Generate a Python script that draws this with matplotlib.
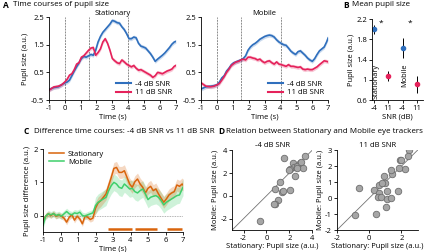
import numpy as np
import matplotlib
matplotlib.use("Agg")
import matplotlib.pyplot as plt

plt.rcParams["font.family"] = ["Open Sans", "DejaVu Sans"]
plt.rcParams["axes.unicode_minus"] = False
plt.rcParams["font.size"] = 5.5

# ---- data -------------------------------------------------------------
t_a = [-1, -0.7, -0.4, -0.2, 0, 0.15, 0.3, 0.45, 0.6, 0.75, 0.9, 1.05, 1.2, 1.35,
       1.5, 1.65, 1.8, 1.95, 2.1, 2.25, 2.4, 2.55, 2.7, 2.85, 3.0, 3.15, 3.3, 3.45,
       3.6, 3.75, 3.9, 4.05, 4.2, 4.35, 4.5, 4.65, 4.8, 4.95, 5.1, 5.25, 5.4, 5.55,
       5.7, 5.85, 6.0, 6.15, 6.3, 6.45, 6.6, 6.75, 6.9, 7.0]

stat_lo = [-0.12, -0.05, -0.02, 0.05, 0.12, 0.15, 0.22, 0.38, 0.55, 0.7, 0.85, 1.0, 1.08, 1.05,
           1.1, 1.15, 1.12, 1.3, 1.6, 1.8, 1.95, 2.05, 2.15, 2.25, 2.38, 2.35, 2.3, 2.28,
           2.15, 2.05, 1.9, 1.72, 1.72, 1.78, 1.75, 1.55, 1.45, 1.42, 1.38, 1.28, 1.18, 1.05,
           0.9, 0.98, 1.05, 1.12, 1.2, 1.3, 1.4, 1.52, 1.6, 1.62]
stat_hi = [-0.15, -0.03, 0.0, 0.05, 0.15, 0.25, 0.4, 0.45, 0.6, 0.8, 0.85, 1.05, 1.1, 1.2,
           1.3, 1.38, 1.4, 1.12, 1.22, 1.35, 1.6, 1.72, 1.55, 1.3, 1.0, 0.92, 0.85, 0.82,
           0.95, 0.88, 0.8, 0.75, 0.7, 0.75, 0.65, 0.58, 0.6, 0.55, 0.5, 0.45, 0.4, 0.32,
           0.38, 0.5, 0.48, 0.45, 0.5, 0.55, 0.58, 0.62, 0.72, 0.75]
mob_lo = [-0.1, -0.02, 0.0, 0.02, 0.05, 0.15, 0.3, 0.38, 0.55, 0.65, 0.78, 0.85, 0.88, 0.92,
          0.95, 1.0, 1.1, 1.3, 1.42, 1.5, 1.55, 1.62, 1.7, 1.75, 1.8, 1.83, 1.85, 1.83,
          1.78, 1.68, 1.6, 1.55, 1.5, 1.48, 1.38, 1.27, 1.2, 1.15, 1.25, 1.28, 1.2, 1.12,
          1.02, 0.95, 0.9, 1.0, 1.15, 1.28, 1.35, 1.42, 1.6, 1.75]
mob_hi = [0.12, 0.0, -0.02, 0.0, 0.05, 0.1, 0.22, 0.35, 0.5, 0.62, 0.75, 0.82, 0.88, 0.9,
          0.95, 0.98, 0.95, 1.05, 1.05, 1.02, 1.0, 0.95, 0.98, 0.9, 0.85, 0.9, 0.92, 0.85,
          0.8, 0.88, 0.8, 0.78, 0.75, 0.72, 0.78, 0.72, 0.72, 0.7, 0.68, 0.7, 0.62, 0.6,
          0.62, 0.6, 0.6, 0.65, 0.7, 0.78, 0.85, 0.92, 0.9, 0.88]
sem_a = 0.07

snr_labels = ["-4", "11", "-4", "11"]
mean_size = [2.0, 1.08, 1.63, 0.91]
mean_err = [0.09, 0.1, 0.19, 0.17]

t_c = [-1, -0.85, -0.7, -0.55, -0.4, -0.25, -0.1, 0.05, 0.2, 0.35, 0.5, 0.65, 0.8, 0.95,
       1.1, 1.25, 1.4, 1.55, 1.7, 1.85, 2.0, 2.15, 2.3, 2.45, 2.6, 2.75, 2.9, 3.05,
       3.2, 3.35, 3.5, 3.65, 3.8, 3.95, 4.1, 4.25, 4.4, 4.55, 4.7, 4.85, 5.0, 5.15,
       5.3, 5.45, 5.6, 5.75, 5.9, 6.05, 6.2, 6.35, 6.5, 6.65, 6.8, 6.95, 7.0]
diff_stat = [-0.15, -0.02, 0.05, 0.0, 0.06, -0.02, 0.02, -0.02, -0.08, -0.2, -0.05, 0.02, -0.14, -0.02,
             -0.1, -0.25, -0.02, -0.05, -0.12, -0.08, 0.22, 0.38, 0.45, 0.55, 0.65, 0.9, 1.15, 1.42,
             1.45, 1.3, 1.3, 1.35, 1.15, 0.95, 0.85, 1.02, 1.1, 0.95, 0.85, 0.68, 0.82, 0.88,
             0.75, 0.8, 0.65, 0.52, 0.4, 0.5, 0.62, 0.68, 0.72, 0.92, 0.88, 0.95, 0.92]
diff_mob = [-0.3, -0.02, 0.05, 0.02, 0.06, 0.0, 0.03, -0.02, 0.05, 0.12, 0.05, 0.02, 0.08, 0.06,
            0.1, 0.0, -0.02, 0.02, 0.05, 0.08, 0.3, 0.4, 0.45, 0.5, 0.55, 0.75, 0.9, 1.0,
            0.95, 0.85, 0.82, 0.95, 0.88, 0.8, 0.82, 0.72, 0.68, 0.75, 0.8, 0.65, 0.48, 0.55,
            0.58, 0.6, 0.55, 0.45, 0.32, 0.4, 0.45, 0.5, 0.55, 0.6, 0.62, 0.8, 0.85]
sem_c_pre = [0.08, 0.1]     # stationary, mobile before 2 s
sem_c_post = [0.18, 0.25]   # stationary, mobile after 2 s
sig_start = [2.7, 4.25, 6.1]
sig_end = [4.1, 5.5, 6.95]

lo_stat_x = [1.5, 2.3, 2.4, 2.9, 2.7, 3.0, 3.4, 3.2, 2.1, 2.0, 2.5, 1.2, 0.75, 1.35, 1.45, 2.05,
             1.05, 0.75, 0.7, -0.6, 2.7]
lo_mob_y = [3.35, 2.85, 2.55, 2.85, 2.6, 3.0, 3.45, 2.45, 2.35, 2.3, 1.75, 1.25, 0.6, 0.3, 0.45, 0.55,
            -0.35, -0.7, -0.75, -2.2, 2.45]
hi_stat_x = [2.49, 2.39, 1.92, 1.98, 2.23, 1.86, 1.4, 1.34, 0.89, 0.99, 0.64, 0.78, -0.62, 0.27,
             0.58, 1.09, 1.81, 0.52, 0.72, 1.09, 1.34, 1.05, -0.87, 0.43]
hi_mob_y = [3.0, 2.65, 2.38, 2.4, 1.85, 1.9, 1.54, 1.75, 1.37, 0.96, 0.85, 0.92, 0.65, 0.5,
            0.33, 0.46, 0.44, 0.04, 0.04, -0.08, 0.02, -0.54, -1.06, -1.02]

BLUE = "#2f6fbd"
PINK = "#e5225b"
ORANGE = "#d9640c"
GREEN = "#3fcf6b"


def style(ax):
    for s in ["top", "right"]:
        ax.spines[s].set_visible(False)
    ax.spines["left"].set_linewidth(0.6)
    ax.spines["bottom"].set_linewidth(0.6)
    ax.tick_params(length=2, width=0.6, pad=1.5, labelsize=5.5)


def time_panel(ax, lo, hi, title, ylabel):
    t = np.array(t_a)
    for y, c in [(lo, BLUE), (hi, PINK)]:
        y = np.array(y)
        ax.fill_between(t, y - sem_a, y + sem_a, color=c, alpha=0.25, lw=0)
        ax.plot(t, y, color=c, lw=1.2)
    for v in [0, 1.5, 4]:
        ax.axvline(v, color="0.55", lw=0.7, ls=(0, (2, 1)), zorder=0)
    ax.set_xlim(-1, 7)
    ax.set_ylim(-0.5, 2.5)
    ax.set_xticks(range(-1, 8))
    ax.set_yticks([-0.5, 0.5, 1.5, 2.5])
    ax.set_title(title, fontsize=5.5, pad=0.5)
    ax.set_xlabel("Time (s)", labelpad=1)
    if ylabel:
        ax.set_ylabel("Pupil size (a.u.)", labelpad=1)
    ax.plot([], [], color=BLUE, lw=1.5, label="-4 dB SNR")
    ax.plot([], [], color=PINK, lw=1.5, label="11 dB SNR")
    h, l = ax.get_legend_handles_labels()
    ax.legend(h[-2:], l[-2:], loc="lower right", frameon=False, fontsize=5.5,
              handlelength=2, handletextpad=0.5, labelspacing=0.1, borderaxespad=0.1)
    style(ax)


fig = plt.figure(figsize=(4.48, 2.52), dpi=100)

# A
axA1 = fig.add_axes([0.109, 0.603, 0.2835, 0.329])
axA2 = fig.add_axes([0.449, 0.603, 0.2835, 0.329])
time_panel(axA1, stat_lo, stat_hi, "Stationary", True)
time_panel(axA2, mob_lo, mob_hi, "Mobile", False)
fig.text(0.006, 0.997, "A", weight="bold", fontsize=6, va="top")
fig.text(0.03, 0.997, "Time courses of pupil size", fontsize=5.8, va="top")

# B
axB = fig.add_axes([0.830, 0.603, 0.114, 0.321])
xb = np.arange(1, 5)
for i in range(4):
    c = BLUE if i % 2 == 0 else PINK
    axB.errorbar(xb[i], mean_size[i], yerr=mean_err[i], fmt="o", color=c, ms=3,
                 mec=c, ecolor="black", elinewidth=0.7, capsize=0)
axB.text(1.5, 2.12, "*", ha="center", va="center", fontsize=6)
axB.text(3.5, 2.12, "*", ha="center", va="center", fontsize=6)
axB.text(1.12, 1.32, "Stationary", rotation=90, ha="center", va="top", fontsize=5.3)
axB.text(3.12, 1.32, "Mobile", rotation=90, ha="center", va="top", fontsize=5.3)
axB.set_xlim(0.86, 4.42)
axB.set_ylim(0.6, 2.2)
axB.set_xticks(xb)
axB.set_xticklabels(snr_labels)
axB.set_yticks([0.6, 1, 1.4, 1.8, 2.2])
axB.set_yticklabels(["0.6", "1", "1.4", "1.8", "2.2"])
axB.set_xlabel("SNR (dB)", labelpad=1)
axB.set_ylabel("Pupil size (a.u.)", labelpad=1)
style(axB)
fig.text(0.766, 0.997, "B", weight="bold", fontsize=6, va="top")
fig.text(0.786, 0.997, "Mean pupil size", fontsize=5.8, va="top")

# C
axC = fig.add_axes([0.096, 0.079, 0.3125, 0.329])
tc = np.array(t_c)
for y, c, k in [(diff_mob, GREEN, 1), (diff_stat, ORANGE, 0)]:
    y = np.array(y)
    sem = np.where(tc < 2, sem_c_pre[k], sem_c_post[k])
    axC.fill_between(tc, y - sem, y + sem, color=c, alpha=0.25, lw=0)
for y, c, lab in [(diff_stat, ORANGE, "Stationary"), (diff_mob, GREEN, "Mobile")]:
    axC.plot(tc, y, color=c, lw=1.1, label=lab)
axC.axhline(0, color="0.6", lw=0.6, ls=(0, (1, 1)), zorder=0)
for a, b in zip(sig_start, sig_end):
    axC.plot([a, b], [-0.4, -0.4], color=ORANGE, lw=1.8, solid_capstyle="butt")
axC.set_xlim(-1, 7)
axC.set_ylim(-0.5, 2)
axC.set_xticks(range(-1, 8))
axC.set_yticks([0, 1, 2])
axC.set_xlabel("Time (s)", labelpad=1)
axC.set_ylabel("Pupil size difference (a.u.)", labelpad=2)
axC.legend(loc="upper left", frameon=False, fontsize=5.5, handlelength=2,
           handletextpad=0.5, labelspacing=0.1, borderaxespad=0.0,
           bbox_to_anchor=(0.02, 1.02))
style(axC)
fig.text(0.052, 0.478, "C", weight="bold", fontsize=6, va="center")
fig.text(0.075, 0.478, "Difference time courses: -4 dB SNR vs 11 dB SNR", fontsize=5.8, va="center")

# D
axD1 = fig.add_axes([0.518, 0.087, 0.179, 0.317])
axD2 = fig.add_axes([0.752, 0.087, 0.180, 0.317])
for ax, xs, ys, lim, ticks, title in [
        (axD1, lo_stat_x, lo_mob_y, (-3, 4), [-2, 0, 2, 4], "-4 dB SNR"),
        (axD2, hi_stat_x, hi_mob_y, (-2, 3), [-2, 0, 2], "11 dB SNR")]:
    ax.plot(lim, lim, color="0.45", lw=0.6, zorder=0)
    ax.scatter(xs, ys, s=22, color="#a6a6a6", edgecolor="#6e6e6e", linewidth=0.6, zorder=2)
    ax.set_xlim(*lim)
    ax.set_ylim(*lim)
    ax.set_xticks(ticks)
    ax.set_title(title, fontsize=5.5, pad=2)
    ax.set_xlabel("Stationary: Pupil size (a.u.)", labelpad=1)
    ax.set_ylabel("Mobile: Pupil size (a.u.)", labelpad=1)
    style(ax)
axD1.set_yticks([-2, 0, 2, 4])
axD2.set_yticks([-2, -1, 0, 1, 2, 3])
fig.text(0.487, 0.478, "D", weight="bold", fontsize=6, va="center")
fig.text(0.505, 0.478, "Relation between Stationary and Mobile eye trackers", fontsize=5.8, va="center")

fig.savefig("out.png", dpi=100)
